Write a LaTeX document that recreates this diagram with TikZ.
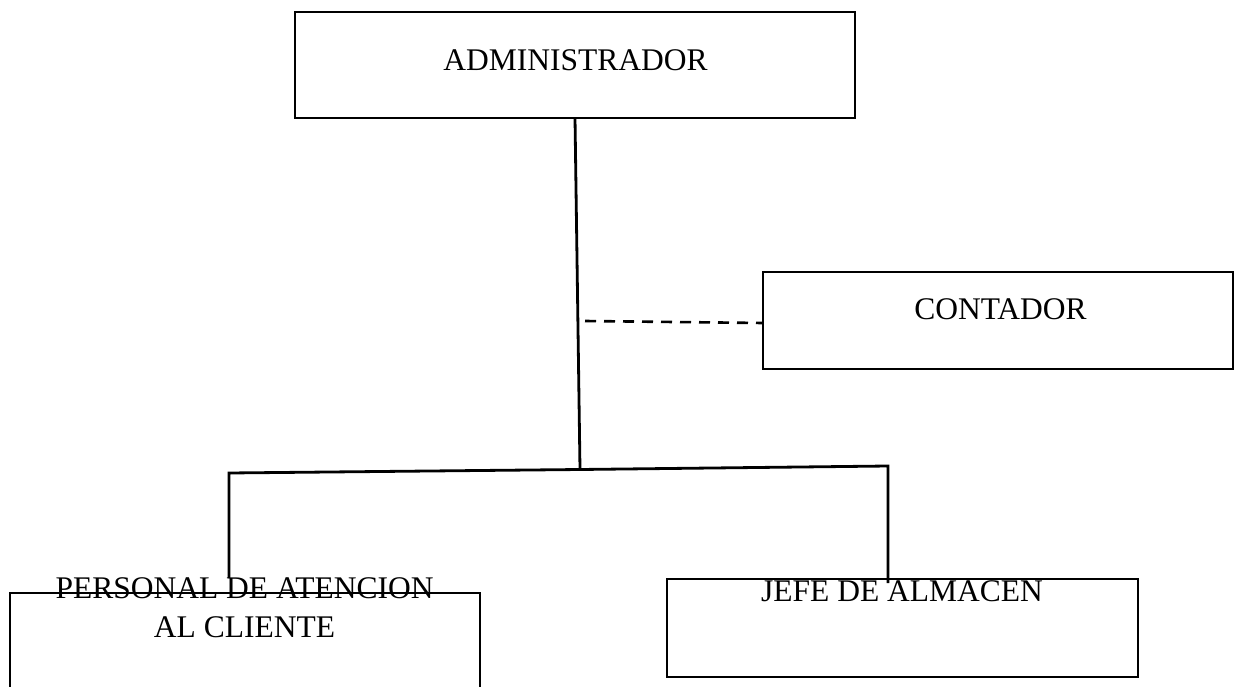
\documentclass[tikz,border=0pt]{standalone}
\usepackage{fontspec}
\setmainfont{Liberation Serif}
\begin{document}
\begin{tikzpicture}[x=1pt,y=-1pt,
  box/.style={draw,rectangle,line width=2.8pt,inner sep=0pt,outer sep=0pt},
  lbl/.style={anchor=base,inner sep=0pt,font=\fontsize{31.5}{39}\selectfont},
  conn/.style={line width=2.8pt},
  dconn/.style={line width=2.6pt,dash pattern=on 11pt off 8pt}]
\clip (0,0) rectangle (1236,687);
\fill[white] (0,0) rectangle (1236,687);
% boxes
\node[box,minimum width=560pt,minimum height=106pt] (admin) at (575,65) {};
\node[box,minimum width=470pt,minimum height=97pt] (cont) at (998,320.5) {};
\node[box,minimum width=470pt,minimum height=130pt] (pers) at (245,658) {};
\node[box,minimum width=471pt,minimum height=98pt] (jefe) at (902.5,628) {};
% labels
\node[lbl] (tadmin) at (575.5,71) {ADMINISTRADOR};
\node[lbl] (tcont) at (1000.5,319) {CONTADOR};
\node[lbl] (tpers1) at (244.5,598) {PERSONAL DE ATENCION};
\node[lbl] (tpers2) at (244.5,637) {AL CLIENTE};
\node[lbl] (tjefe) at (902,601) {JEFE DE ALMACEN};
% connector points
\coordinate (atop) at (575,118);
\coordinate (junc) at (580,469.5);
\coordinate (lc) at (229,473);
\coordinate (rc) at (888,466);
\coordinate (lend) at (229,578);
\coordinate (rend) at (888,583);
\coordinate (dstart) at (585,321);
\coordinate (dend) at (763,323);
% connectors
\draw[conn] (atop) -- (junc);
\draw[conn] (lend) -- (lc) -- (junc) -- (rc) -- (rend);
\draw[dconn] (dstart) -- (dend);
\end{tikzpicture}
\end{document}
